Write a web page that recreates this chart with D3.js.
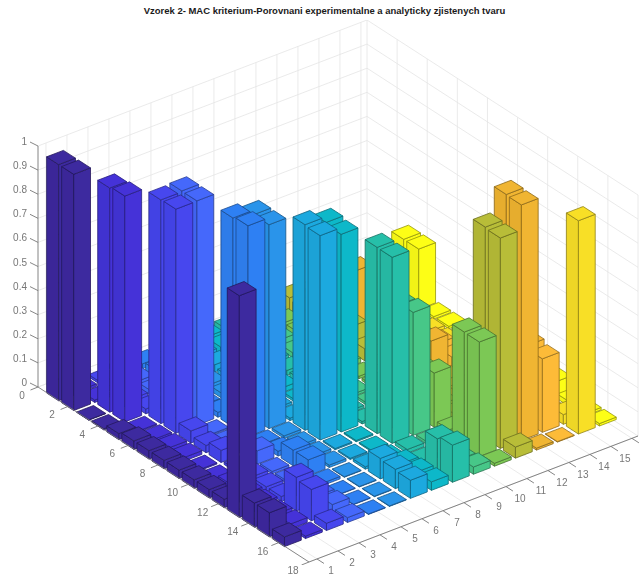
<!DOCTYPE html>
<html>
<head>
  <title>Vzorek 2 MAC</title>
  <script src="https://cdn.jsdelivr.net/npm/d3@7/dist/d3.min.js"></script>
  <style>
    html, body { margin: 0; padding: 0; background: #fff; }
    text { font-family: "Liberation Sans", Arial, sans-serif; }
  </style>
</head>
<body>
<svg id="chart" width="643" height="576" style="display:block"></svg>
<script>
  var titleText = 'Vzorek 2- MAC kriterium-Porovnani experimentalne a analyticky zjistenych tvaru';

  // MAC values, one list per x column, rows 1..16
  var col01 = [.98, .98, .002, .005, .025, .035, .035, .035, .035, .035, .035, .035, .92, .10, .10, .04];
  var col02 = [.01, .01, .93, .937, .005, .01, .015, .015, .005, .005, .025, .025, .025, .02, .02, .01];
  var col03 = [.01, .02, .02, .02, .928, .93, .05, .03, .05, .01, .02, .02, .02, .14, .13, .03];
  var col04 = [.02, .02, .02, .02, .932, .931, .005, .01, .01, .055, .01, .01, .03, .03, .034, .02];
  var col05 = [.02, .03, .01, .01, .01, .02, .867, .875, .01, .02, .065, .065, .01, .002, .002, .002];
  var col06 = [.03, .03, .03, .02, .02, .02, .848, .846, .01, .01, .01, .01, .002, .002, .002, .002];
  var col07 = [.03, .03, .03, .02, .02, .02, .01, .01, .853, .848, .005, .005, .01, .085, .08, .075];
  var col08 = [.03, .03, .03, .02, .02, .02, .01, .01, .829, .82, .005, .005, .01, .03, .035, .035];
  var col09 = [.03, .03, .03, .02, .02, .02, .01, .01, .01, .01, .773, .772, .015, .01, .14, .154];
  var col10 = [.02, .03, .03, .02, .02, .02, .01, .01, .01, .01, .5, .51, .01, .01, .02, .03];
  var col11 = [.03, .03, .03, .02, .02, .02, .01, .01, .01, .02, .2, .225, .03, .476, .475, .012];
  var col12 = [.06, .05, .05, .05, .1, .05, .02, .02, .02, .02, .02, .02, .02, .878, .873, .046];
  var col13 = [.05, .05, .05, .26, .05, .05, .05, .15, .17, .05, .03, .03, .02, .98, .977, .008];
  var col14 = [.03, .03, .03, .03, .03, .03, .03, .085, .07, .03, .03, .03, .03, .32, .305, .002];
  var col15 = [.02, .02, .02, .02, .02, .02, .02, .02, .02, .02, .02, .02, .02, .01, .04, .885];
  var col16 = [.02, .02, .25, .25, .01, .01, .01, .01, .01, .01, .01, .02, .06, .02, .01, .01];
  var columns = [col01, col02, col03, col04, col05, col06, col07, col08, col09, col10, col11, col12, col13, col14, col15, col16];

  var barColors = ['#3d2a9f', '#4433d8', '#4646ee', '#4468fb', '#2f80f3', '#2a94ea', '#1ca9df', '#0db8c9',
    '#28bfa9', '#46c788', '#7cc855', '#b8bd37', '#f0b530', '#fdbb38', '#f8df28', '#fdfe14'];

  var xTicks = d3.range(1, 17);
  var xTickLabels = ['1', '2', '3', '4', '5', '6', '7', '8', '9', '10', '11', '12', '13', '14', '15', ''];
  var yTicks = d3.range(0, 19, 2);
  var zTicks = d3.range(0, 1.01, 0.1);

  var barWidth = 0.8;
  var xLim = [0.62, 16.29], yLim = [0, 18], zLim = [0, 1];

  // screen offsets of the three box edges, all taken from the left corner of the floor
  var origin = [38, 387];
  var xEdge = [329, -126], yEdge = [271, 175], zEdge = 241;

  var sx = d3.scaleLinear().domain(xLim).range([0, 1]);
  var sy = d3.scaleLinear().domain(yLim).range([0, 1]);
  var sz = d3.scaleLinear().domain(zLim).range([0, zEdge]);

  function project(x, y, z) {
    return [
      origin[0] + sx(x) * xEdge[0] + sy(y) * yEdge[0],
      origin[1] + sx(x) * xEdge[1] + sy(y) * yEdge[1] - sz(z)
    ];
  }

  var svg = d3.select('#chart');
  var soft = svg.append('defs').append('filter').attr('id', 'soft')
    .attr('x', 0).attr('y', 0).attr('width', 1).attr('height', 1);
  soft.append('feGaussianBlur').attr('stdDeviation', 0.45);

  var g = svg.append('g').attr('filter', 'url(#soft)');
  var line = d3.line();

  function seg(a, b, color, w) {
    g.append('path').attr('d', line([a, b])).attr('fill', 'none').attr('stroke', color).attr('stroke-width', w);
  }

  var gridColor = '#e4e4e4';

  // back walls and floor
  xTicks.forEach(function (x) {
    seg(project(x, yLim[0], 0), project(x, yLim[0], 1), gridColor, 0.8);
    seg(project(x, yLim[0], 0), project(x, yLim[1], 0), gridColor, 0.8);
  });
  yTicks.forEach(function (y) {
    seg(project(xLim[1], y, 0), project(xLim[1], y, 1), gridColor, 0.8);
    seg(project(xLim[0], y, 0), project(xLim[1], y, 0), gridColor, 0.8);
  });
  zTicks.forEach(function (z) {
    seg(project(xLim[0], yLim[0], z), project(xLim[1], yLim[0], z), gridColor, 0.8);
    seg(project(xLim[1], yLim[0], z), project(xLim[1], yLim[1], z), gridColor, 0.8);
  });

  // bars, far column first, near row last
  var half = barWidth / 2;
  function face(pts, fill) {
    g.append('path')
      .attr('d', line(pts) + 'Z')
      .attr('fill', fill)
      .attr('stroke', d3.rgb(fill).darker(1.5).formatHex())
      .attr('stroke-width', 0.8)
      .attr('stroke-linejoin', 'round');
  }
  for (var c = columns.length - 1; c >= 0; c--) {
    columns[c].forEach(function (v, r) {
      var x = c + 1, y = r + 1, fill = barColors[c];
      var x0 = x - half, x1 = x + half, y0 = y - half, y1 = y + half;
      face([project(x0, y0, 0), project(x0, y1, 0), project(x0, y1, v), project(x0, y0, v)], d3.rgb(fill).darker(0.12).formatHex());
      face([project(x0, y1, 0), project(x1, y1, 0), project(x1, y1, v), project(x0, y1, v)], fill);
      face([project(x0, y0, v), project(x0, y1, v), project(x1, y1, v), project(x1, y0, v)], fill);
    });
  }

  // axis lines and ticks
  var axisColor = '#777';
  seg(project(xLim[0], yLim[0], 0), project(xLim[0], yLim[0], 1), axisColor, 0.9);
  seg(project(xLim[0], yLim[0], 0), project(xLim[0], yLim[1], 0), axisColor, 0.9);
  seg(project(xLim[0], yLim[1], 0), project(xLim[1], yLim[1], 0), axisColor, 0.9);

  var labels = svg.append('g').attr('font-size', 10).attr('fill', '#777').attr('filter', 'url(#soft)');

  zTicks.forEach(function (z) {
    var p = project(xLim[0], yLim[0], z);
    seg(p, [p[0] - 8, p[1] - 4], axisColor, 0.9);
    labels.append('text').attr('x', p[0] - 11).attr('y', p[1] - 1).attr('text-anchor', 'end')
      .text(d3.format('~g')(+z.toFixed(1)));
  });
  yTicks.forEach(function (y) {
    var p = project(xLim[0], y, 0);
    seg(p, [p[0] - 7.5, p[1] + 3], axisColor, 0.9);
    labels.append('text').attr('x', p[0] - 16).attr('y', p[1] + 12).attr('text-anchor', 'middle').text(y);
  });
  xTicks.forEach(function (x, i) {
    var p = project(x, yLim[1], 0);
    seg(p, [p[0] + 7, p[1] + 4.5], axisColor, 0.9);
    labels.append('text').attr('x', p[0] + 14).attr('y', p[1] + 15.5).attr('text-anchor', 'middle').text(xTickLabels[i]);
  });

  svg.append('text').attr('x', 324.5).attr('y', 14).attr('text-anchor', 'middle')
    .attr('font-size', 9.47).attr('font-weight', 'bold').attr('fill', '#1a1a1a').text(titleText);
</script>
</body>
</html>
